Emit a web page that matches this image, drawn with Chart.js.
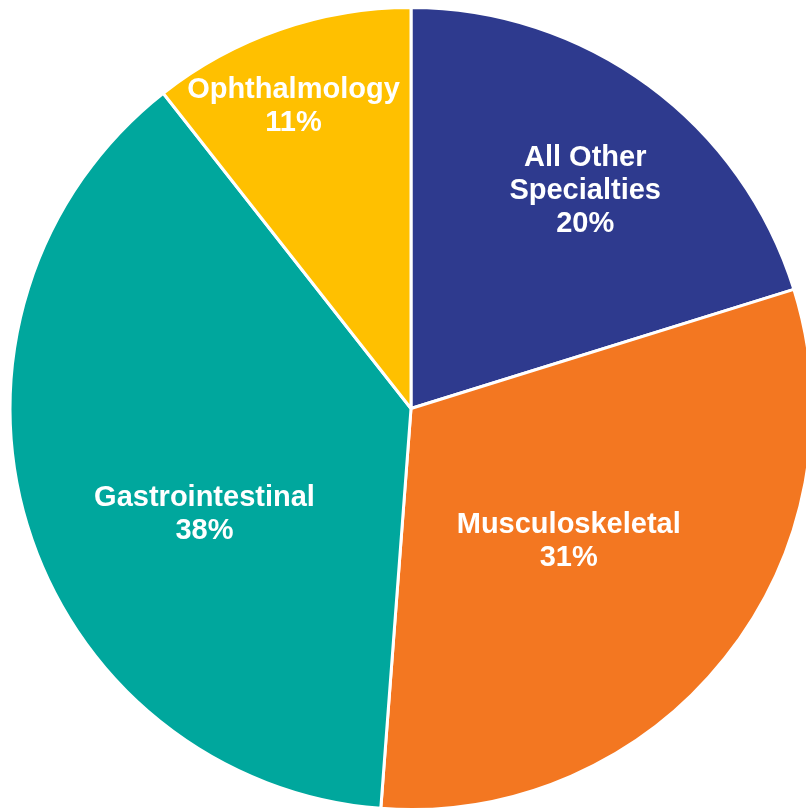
<!DOCTYPE html>
<html>
<head>
<meta charset="utf-8">
<script src="https://cdn.jsdelivr.net/npm/chart.js@4"></script>
<style>
  html, body { margin: 0; padding: 0; background: #fff; overflow: hidden; }
  #wrap { position: absolute; left: 0; top: 0; width: 815px; height: 811px; }
</style>
</head>
<body>
<div id="wrap"><canvas id="myChart"></canvas></div>
<script>
const categories = ['All Other Specialties', 'Musculoskeletal', 'Gastrointestinal', 'Ophthalmology'];
const shares = [20.2, 31.0, 38.2, 10.6];
const labelLines = [['All Other', 'Specialties'], ['Musculoskeletal'], ['Gastrointestinal'], ['Ophthalmology']];
const sliceColors = ['#2E3A8E', '#F37721', '#00A79D', '#FFC000'];
// where the label sits inside each slice (fraction of radius, degrees off the middle)
const labelRadius = [0.70, 0.51, 0.575, 0.815];
const labelTurn = [2, 1, -9.5, -2];

const sliceLabels = {
  id: 'sliceLabels',
  afterDatasetsDraw(chart) {
    const ctx = chart.ctx;
    const arcs = chart.getDatasetMeta(0).data;
    ctx.save();
    ctx.fillStyle = '#fff';
    ctx.font = 'bold 29px "Liberation Sans", Arial, sans-serif';
    ctx.textAlign = 'center';
    ctx.textBaseline = 'middle';
    arcs.forEach((arc, i) => {
      const p = arc.getProps(['x', 'y', 'startAngle', 'endAngle', 'outerRadius'], true);
      const mid = (p.startAngle + p.endAngle) / 2 + labelTurn[i] * Math.PI / 180;
      const r = p.outerRadius * labelRadius[i];
      const cx = p.x + Math.cos(mid) * r;
      const cy = p.y + Math.sin(mid) * r + 3;
      const lines = labelLines[i].concat([Math.round(shares[i]) + '%']);
      const lh = 33;
      lines.forEach((t, k) => {
        ctx.fillText(t, cx, cy + (k - (lines.length - 1) / 2) * lh);
      });
    });
    ctx.restore();
  }
};

new Chart(document.getElementById('myChart'), {
  type: 'pie',
  data: {
    labels: categories,
    datasets: [{
      data: shares,
      backgroundColor: sliceColors,
      borderColor: '#fff',
      borderWidth: 3
    }]
  },
  options: {
    responsive: true,
    maintainAspectRatio: false,
    animation: false,
    layout: { padding: { left: 7, right: 0, top: 6, bottom: 0 } },
    plugins: {
      legend: { display: false },
      tooltip: { enabled: false }
    }
  },
  plugins: [sliceLabels]
});
</script>
</body>
</html>
